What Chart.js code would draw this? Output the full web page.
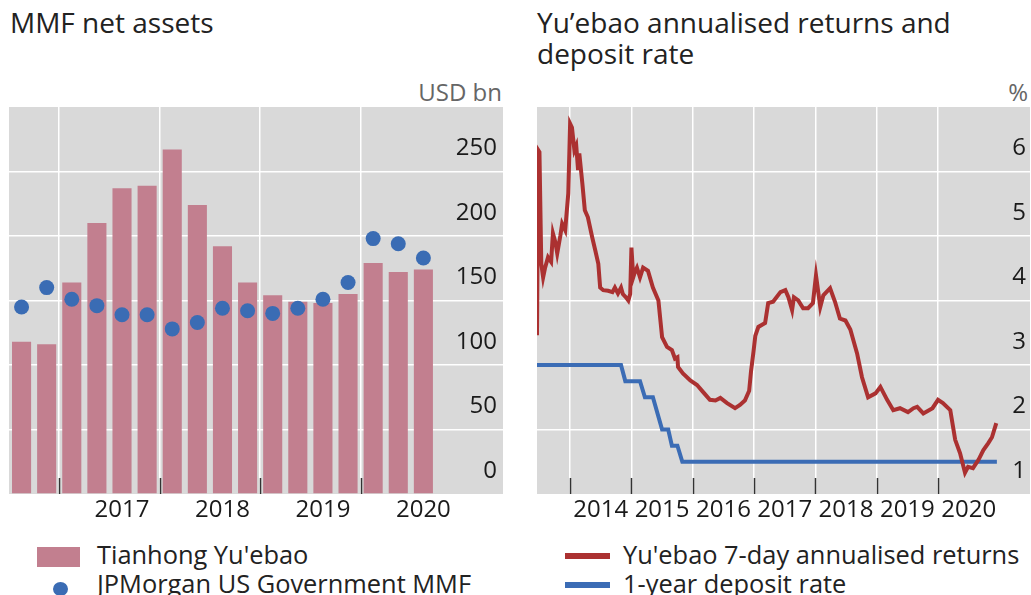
<!DOCTYPE html>
<html>
<head>
<meta charset="utf-8">
<script src="https://cdn.jsdelivr.net/npm/chart.js@4.4.1/dist/chart.umd.min.js"></script>
<style>
  body { margin: 0; width: 1031px; height: 595px; background: #fff; overflow: hidden; position: relative;
         font-family: 'Open Sans', sans-serif; color: #222; }
  .title { position: absolute; font-size: 28px; line-height: 31px; white-space: nowrap; }
  .unit { position: absolute; font-size: 24px; line-height: 28px; color: #666; }
  .lg { position: absolute; font-size: 25.4px; line-height: 29px; white-space: nowrap; }
  .sw { position: absolute; }
  canvas { position: absolute; }
</style>
</head>
<body>
<div class="title" style="left:10px;top:7px">MMF net assets</div>
<div class="title" style="left:537px;top:7px">Yu’ebao annualised returns and<br>deposit rate</div>
<div class="unit" style="right:529px;top:78px">USD bn</div>
<div class="unit" style="right:3px;top:78px">%</div>

<canvas id="left" width="503" height="430" style="left:0;top:100px"></canvas>
<canvas id="right" width="511" height="430" style="left:520px;top:100px"></canvas>

<div class="sw" style="left:37px;top:547px;width:43px;height:20px;background:#c27f8f"></div>
<div class="lg" style="left:97px;top:540px">Tianhong Yu'ebao</div>
<div class="sw" style="left:53px;top:582px;width:15px;height:14px;border-radius:50%;background:#3a6cb4"></div>
<div class="lg" style="left:97px;top:569px">JPMorgan US Government MMF</div>
<div class="sw" style="left:565px;top:553px;width:45px;height:6px;background:#ab3131"></div>
<div class="lg" style="left:623px;top:540px">Yu'ebao 7-day annualised returns</div>
<div class="sw" style="left:565px;top:582px;width:45px;height:6px;background:#3b6cb5"></div>
<div class="lg" style="left:623px;top:569px">1-year deposit rate</div>

<script>
// left panel: net assets, USD bn, quarterly
const quarters = ['2016 Q3', '2016 Q4', '2017 Q1', '2017 Q2', '2017 Q3', '2017 Q4', '2018 Q1', '2018 Q2',
  '2018 Q3', '2018 Q4', '2019 Q1', '2019 Q2', '2019 Q3', '2019 Q4', '2020 Q1', '2020 Q2', '2020 Q3'];
const tianhong = [118, 116, 164, 210, 237, 239, 267, 224, 192, 164, 154, 149, 148, 155, 179, 172, 174];
const jpmorgan = [145, 160, 151, 146, 139, 139, 128, 133, 144, 142, 140, 144, 151, 164, 198, 194, 183];
const leftYears = ['2017', '2018', '2019', '2020'];

// right panel: %, dates as decimal years
const returnDates = [2013.46, 2013.48, 2013.50, 2013.53, 2013.56, 2013.59, 2013.64, 2013.69, 2013.72, 2013.76,
  2013.79, 2013.84, 2013.87, 2013.92, 2013.97, 2014.00, 2014.03, 2014.07, 2014.10, 2014.13, 2014.15, 2014.20,
  2014.24, 2014.29, 2014.36, 2014.41, 2014.46, 2014.49, 2014.54, 2014.62, 2014.69, 2014.73, 2014.78, 2014.83,
  2014.86, 2014.91, 2014.95, 2014.98, 2015.00, 2015.03, 2015.06, 2015.09, 2015.14, 2015.19, 2015.27, 2015.35,
  2015.44, 2015.50, 2015.58, 2015.66, 2015.71, 2015.75, 2015.76, 2015.84, 2015.96, 2016.07, 2016.17, 2016.28,
  2016.37, 2016.45, 2016.56, 2016.69, 2016.77, 2016.85, 2016.92, 2016.95, 2016.99, 2017.02, 2017.07, 2017.18,
  2017.23, 2017.31, 2017.43, 2017.51, 2017.56, 2017.62, 2017.65, 2017.72, 2017.80, 2017.88, 2017.96, 2018.01,
  2018.08, 2018.13, 2018.24, 2018.32, 2018.40, 2018.49, 2018.57, 2018.68, 2018.76, 2018.86, 2018.98, 2019.06,
  2019.17, 2019.27, 2019.38, 2019.51, 2019.60, 2019.66, 2019.76, 2019.91, 2020.00, 2020.08, 2020.20, 2020.28,
  2020.36, 2020.44, 2020.49, 2020.57, 2020.66, 2020.74, 2020.82, 2020.88, 2020.95];
const returnValues = [3.46, 6.33, 6.3, 4.57, 4.36, 4.5, 4.67, 4.6, 5.04, 4.9,
  4.73, 5.0, 5.19, 5.09, 5.66, 6.74, 6.68, 6.33, 6.4, 6.02, 6.28, 5.81,
  5.4, 5.29, 4.98, 4.78, 4.57, 4.2, 4.16, 4.15, 4.13, 4.2, 4.11, 4.2,
  4.1, 4.05, 4.0, 4.1, 4.82, 4.36, 4.45, 4.51, 4.36, 4.51, 4.46, 4.2,
  4.0, 3.43, 3.28, 3.23, 3.1, 3.12, 2.97, 2.87, 2.76, 2.69, 2.58, 2.46,
  2.45, 2.49, 2.41, 2.33, 2.38, 2.45, 2.6, 2.9, 3.2, 3.45, 3.59, 3.65,
  3.96, 3.98, 4.13, 4.16, 4.05, 3.85, 4.05, 4.0, 3.88, 3.88, 3.96, 4.39,
  3.9, 4.08, 4.19, 3.98, 3.72, 3.69, 3.55, 3.18, 2.81, 2.5, 2.56, 2.66,
  2.46, 2.3, 2.33, 2.27, 2.33, 2.35, 2.25, 2.33, 2.46, 2.41, 2.3, 1.84,
  1.63, 1.33, 1.42, 1.4, 1.53, 1.68, 1.79, 1.88, 2.1];
const depositDates = [2013.46, 2014.83, 2014.90, 2015.14, 2015.22, 2015.35, 2015.50, 2015.60, 2015.66, 2015.75, 2015.83, 2020.96];
const depositValues = [3.0, 3.0, 2.75, 2.75, 2.5, 2.5, 2.0, 2.0, 1.75, 1.75, 1.5, 1.5];
const rightYears = [2014, 2015, 2016, 2017, 2018, 2019, 2020];

const FONT = { family: 'Open Sans', size: 24 };
const CLEAR = 'rgba(0,0,0,0)';

// grey plot background
const greyBg = {
  id: 'greyBg',
  beforeDraw(chart) {
    const { ctx, chartArea: a } = chart;
    ctx.save();
    ctx.fillStyle = '#d9d9d9';
    ctx.fillRect(a.left, a.top, a.width, a.height);
    ctx.restore();
  }
};

// short tick marks pointing up from the bottom edge
const innerTicks = {
  id: 'innerTicks',
  afterDatasetsDraw(chart, args, opts) {
    const { ctx, chartArea: a, scales: { x } } = chart;
    ctx.save();
    ctx.strokeStyle = '#333';
    ctx.lineWidth = 1.5;
    opts.values.forEach(v => {
      const px = Math.round(x.getPixelForValue(v)) + 0.5;
      ctx.beginPath();
      ctx.moveTo(px, a.bottom);
      ctx.lineTo(px, a.bottom - 16);
      ctx.stroke();
    });
    ctx.restore();
  }
};

// keep the plot area fixed: no extra room for overhanging labels
const fitX = s => { s.height = 36; s.paddingLeft = 0; s.paddingRight = 0; };
const fitY = s => { s.width = 0; s.paddingTop = 0; s.paddingBottom = 0; };

// ---- left chart ----
const yearStarts = quarters.map((q, i) => q.endsWith('Q1') ? i - 0.5 : null).filter(v => v !== null);
const yearLabelPos = leftYears.map(y => quarters.indexOf(y + ' Q3'));

new Chart(document.getElementById('left'), {
  type: 'bar',
  data: {
    datasets: [
      {
        type: 'line',
        label: 'JPMorgan US Government MMF',
        data: jpmorgan.map((v, i) => ({ x: i, y: v })),
        showLine: false,
        pointRadius: 7.5,
        pointBackgroundColor: '#3a6cb4',
        pointBorderWidth: 0,
        order: 0
      },
      {
        label: "Tianhong Yu'ebao",
        data: tianhong.map((v, i) => ({ x: i, y: v })),
        backgroundColor: '#c27f8f',
        barPercentage: 0.76,
        categoryPercentage: 1,
        order: 1
      }
    ]
  },
  options: {
    responsive: false,
    animation: false,
    events: [],
    layout: { autoPadding: false, padding: { left: 9, top: 7, right: 0, bottom: 0 } },
    plugins: {
      legend: { display: false },
      tooltip: { enabled: false },
      innerTicks: { values: yearStarts }
    },
    scales: {
      x: {
        type: 'linear',
        min: -0.5,
        max: 19.17,
        offset: false,
        afterBuildTicks: s => {
          s.ticks = [...yearStarts, ...yearLabelPos].sort((a, b) => a - b).map(v => ({ value: v }));
        },
        afterFit: fitX,
        grid: {
          offset: false,
          color: c => yearStarts.includes(c.tick && c.tick.value) ? '#fff' : CLEAR,
          lineWidth: 1.5,
          drawTicks: false
        },
        border: { display: false },
        ticks: {
          autoSkip: false,
          maxRotation: 0,
          padding: 2,
          color: '#1a1a1a',
          font: FONT,
          callback: v => {
            const k = yearLabelPos.indexOf(v);
            return k >= 0 ? leftYears[k] : '';
          }
        }
      },
      y: {
        position: 'right',
        min: 0,
        max: 300,
        afterFit: fitY,
        grid: {
          color: c => (c.tick && c.tick.value > 0 && c.tick.value < 300) ? '#fff' : CLEAR,
          lineWidth: 1.5,
          drawTicks: false
        },
        border: { display: false },
        ticks: {
          stepSize: 50,
          mirror: true,
          padding: -6,
          labelOffset: -23,
          color: '#1a1a1a',
          font: FONT,
          callback: v => v === 300 ? '' : v
        }
      }
    }
  },
  plugins: [greyBg, innerTicks]
});

// ---- right chart ----
new Chart(document.getElementById('right'), {
  type: 'line',
  data: {
    datasets: [
      {
        label: "Yu'ebao 7-day annualised returns",
        data: returnDates.map((d, i) => ({ x: d, y: returnValues[i] })),
        borderColor: '#ab3131',
        borderWidth: 4,
        pointRadius: 0,
        tension: 0,
        order: 0
      },
      {
        label: '1-year deposit rate',
        data: depositDates.map((d, i) => ({ x: d, y: depositValues[i] })),
        borderColor: '#3b6cb5',
        borderWidth: 4,
        pointRadius: 0,
        tension: 0,
        order: 1
      }
    ]
  },
  options: {
    responsive: false,
    animation: false,
    events: [],
    layout: { autoPadding: false, padding: { left: 17, top: 7, right: 1, bottom: 0 } },
    plugins: {
      legend: { display: false },
      tooltip: { enabled: false },
      innerTicks: { values: rightYears }
    },
    scales: {
      x: {
        type: 'linear',
        min: 2013.46,
        max: 2021.5,
        afterBuildTicks: s => {
          s.ticks = rightYears.flatMap(y => [y, y + 0.5]).map(v => ({ value: v }));
        },
        afterFit: fitX,
        grid: {
          color: c => rightYears.includes(c.tick && c.tick.value) ? '#fff' : CLEAR,
          lineWidth: 1.5,
          drawTicks: false
        },
        border: { display: false },
        ticks: {
          autoSkip: false,
          maxRotation: 0,
          padding: 2,
          color: '#1a1a1a',
          font: FONT,
          callback: v => Number.isInteger(v) ? '' : String(Math.floor(v))
        }
      },
      y: {
        position: 'right',
        min: 1,
        max: 7,
        afterFit: fitY,
        grid: {
          color: c => (c.tick && c.tick.value > 1 && c.tick.value < 7) ? '#fff' : CLEAR,
          lineWidth: 1.5,
          drawTicks: false
        },
        border: { display: false },
        ticks: {
          stepSize: 1,
          mirror: true,
          padding: -4,
          labelOffset: -23,
          color: '#1a1a1a',
          font: FONT,
          callback: v => v === 7 ? '' : v
        }
      }
    }
  },
  plugins: [greyBg, innerTicks]
});
</script>
</body>
</html>
